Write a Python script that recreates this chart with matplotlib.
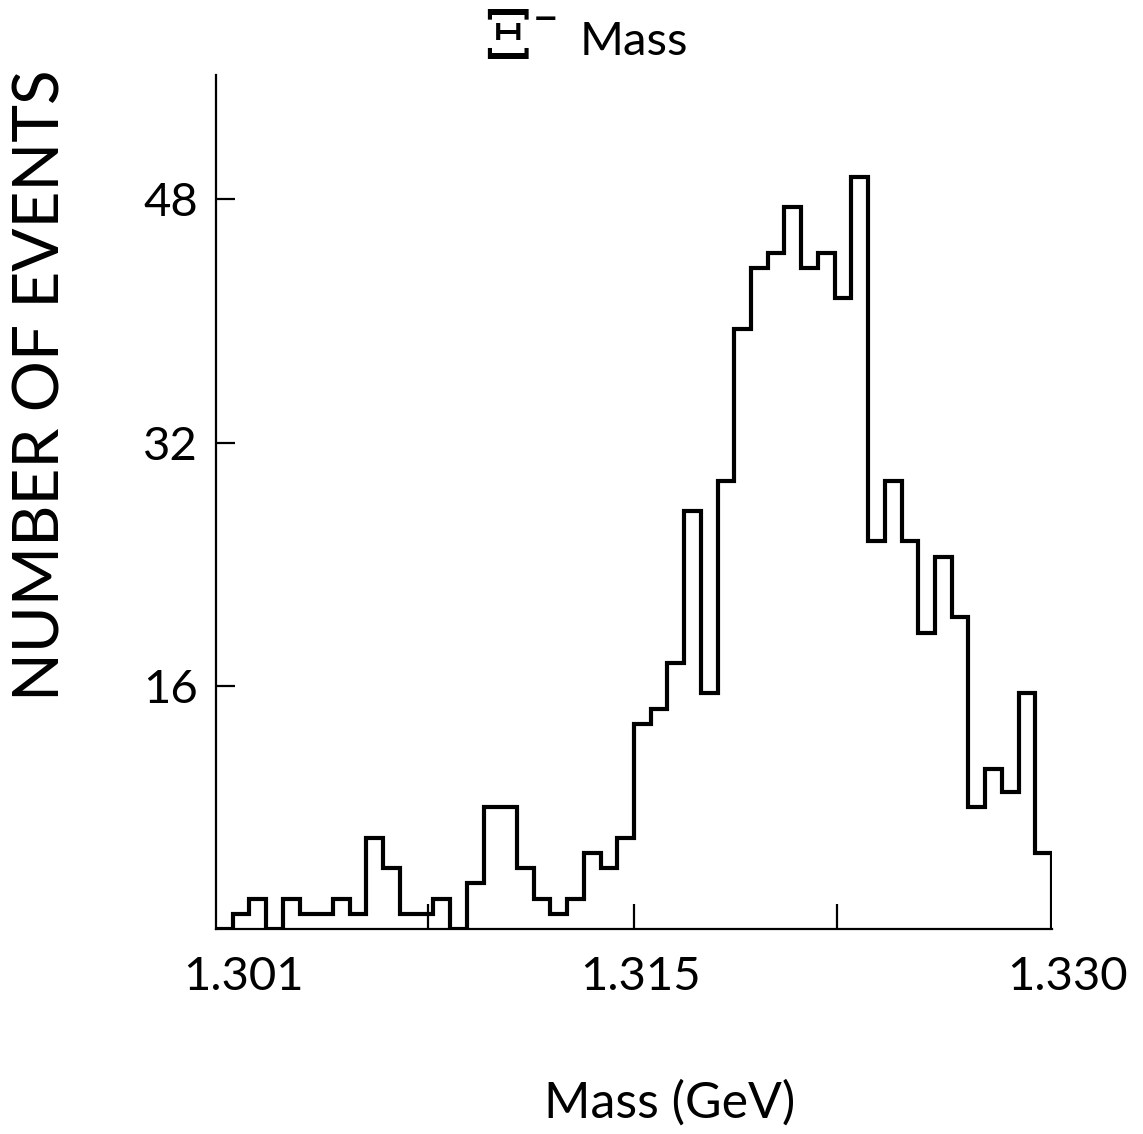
import numpy as np
import matplotlib
matplotlib.use("Agg")
import matplotlib.pyplot as plt

# ---- data ----
bin_start = 1.300          # GeV
bin_width = 0.0006         # GeV
counts = [0, 1, 2, 0, 2, 1, 1, 2, 1, 6,
          4, 1, 1, 2, 0, 3, 8, 8, 4, 2,
          1, 2, 5, 4, 6, 13.5, 14.5, 17.5, 27.5, 15.5,
          29.5, 39.5, 43.5, 44.5, 47.5, 43.5, 44.5, 41.5, 49.5, 25.5,
          29.5, 25.5, 19.5, 24.5, 20.5, 8, 10.5, 9, 15.5, 5]
y_ticks = [16, 32, 48]
y_ticklabels = ["16", "32", "48"]
x_ticks = [1.3076, 1.315, 1.3223]
x_label_pos = [1.30097, 1.31522, 1.33057]
x_label_txt = ["1.301", "1.315", "1.330"]

edges = bin_start + bin_width * np.arange(len(counts) + 1)

plt.rcParams['font.family'] = ['Lato', 'DejaVu Sans']

fig = plt.figure(figsize=(11.43, 11.34), dpi=100)
W, H = 1143, 1134
left_px, right_px, top_px, bot_px = 216, 1052, 75, 929
ax = fig.add_axes([left_px / W, 1 - bot_px / H, (right_px - left_px) / W, (bot_px - top_px) / H])

ax.stairs(counts, edges, baseline=0, color='black', lw=3.0)

ax.set_xlim(edges[0], edges[-1])
ax.set_ylim(0, (bot_px - top_px) / 15.2)

for s in ['top', 'right']:
    ax.spines[s].set_visible(False)
for s in ['left', 'bottom']:
    ax.spines[s].set_linewidth(1.6)

ax.set_yticks(y_ticks)
ax.set_yticklabels(y_ticklabels, fontsize=34, fontweight='normal')
ax.tick_params(axis='y', direction='in', length=14, width=1.6, pad=13)
ax.set_xticks(x_ticks)
ax.set_xticklabels([])
ax.tick_params(axis='x', direction='in', length=18, width=1.6)

trans = ax.get_xaxis_transform()
for xp, txt in zip(x_label_pos, x_label_txt):
    ax.text(xp, -0.056, txt, transform=trans, ha='center', va='center',
            fontsize=34, fontweight='normal')

# y-axis label
fig.text(42 / W, 1 - 385 / H, "NUMBER OF EVENTS", rotation=90, ha='center', va='center',
         fontsize=46, fontweight='normal')
# x-axis label
fig.text(670 / W, 1 - 1103 / H, "Mass (GeV)", ha='center', va='center',
         fontsize=36, fontweight='normal')
# title
fig.text(508 / W, 1 - 40 / H, "Ξ", ha='center', va='center', fontsize=50,
         family='DejaVu Serif')
fig.text(546 / W, 1 - 20 / H, "−", ha='center', va='center', fontsize=22,
         fontweight='bold', family='DejaVu Sans')
fig.text(634 / W, 1 - 42 / H, "Mass", ha='center', va='center', fontsize=34,
         fontweight='normal')

fig.savefig("out.png", dpi=100, facecolor='white')
